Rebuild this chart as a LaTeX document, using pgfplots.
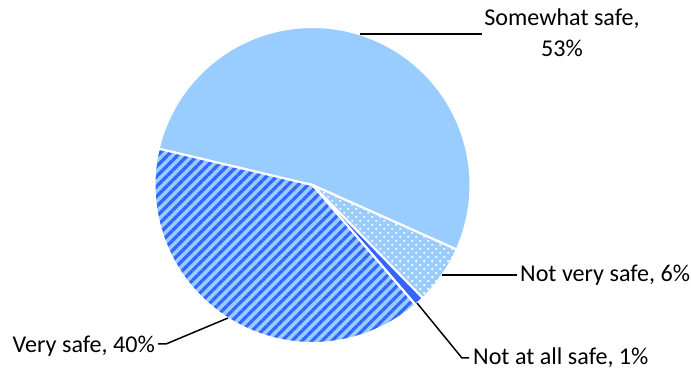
\documentclass[border=0pt]{standalone}
\usepackage{pgfplots}
\pgfplotsset{compat=1.18}
\usepackage{pgfplotstable}
\usepackage{fontspec}
\setmainfont{Carlito}
\usetikzlibrary{patterns.meta}
\definecolor{lightb}{HTML}{99CCFF}
\definecolor{darkb}{HTML}{3366FF}

\pgfplotstableread{
label value
Somewhat 53
NotVery 6
NotAtAll 1
Very 40
}\piedata

\tikzset{
  slice/.style 2 args={insert path={(axis cs:312.5,188) -- plot[domain=#1:#2, samples=90, variable=\t] ({312.5+158*cos(\t)},{188+158*sin(\t)}) -- cycle}},
  lbl/.style={font=\fontsize{24.2}{29}\selectfont, inner sep=0pt, text=black},
  lead/.style={black, line width=1.5bp}
}

\begin{document}%
\pgfplotstablegetelem{0}{value}\of\piedata\edef\vA{\pgfplotsretval}%
\pgfplotstablegetelem{1}{value}\of\piedata\edef\vB{\pgfplotsretval}%
\pgfplotstablegetelem{2}{value}\of\piedata\edef\vC{\pgfplotsretval}%
\pgfplotstablegetelem{3}{value}\of\piedata\edef\vD{\pgfplotsretval}%
\pgfmathsetmacro\aO{166.7}%
\pgfmathsetmacro\aA{\aO-3.6*\vA}%
\pgfmathsetmacro\aB{\aA-3.6*\vB}%
\pgfmathsetmacro\aC{\aB-3.6*\vC}%
\pgfmathsetmacro\aD{\aC-3.6*\vD}%
\begin{tikzpicture}
\begin{axis}[
  at={(0,0)}, anchor=south west,
  scale only axis, width=691bp, height=373bp,
  xmin=0, xmax=691, ymin=0, ymax=373,
  hide axis, clip=false]
% Somewhat safe
\fill[lightb, slice={\aO}{\aA}];
% Not very safe
\fill[lightb, slice={\aA}{\aB}];
\fill[pattern={Dots[distance=5.66bp, radius=1.15bp, angle=45]}, pattern color=white, slice={\aA}{\aB}];
% Not at all safe
\fill[darkb, slice={\aB}{\aC}];
% Very safe
\fill[lightb, slice={\aC}{\aD}];
\fill[pattern={Lines[angle=45, distance=7.07bp, line width=3.2bp]}, pattern color=darkb, slice={\aC}{\aD}];
% borders
\draw[white, line width=2bp, line join=round, slice={\aO}{\aA}];
\draw[white, line width=2bp, line join=round, slice={\aA}{\aB}];
\draw[white, line width=2bp, line join=round, slice={\aB}{\aC}];
\draw[white, line width=2bp, line join=round, slice={\aC}{\aD}];
% leaders and labels
\draw[lead] (axis cs:360,339) -- (axis cs:482,339);
\node[lbl, anchor=base] at (axis cs:562,347) {Somewhat safe,};
\node[lbl, anchor=base] at (axis cs:562,316) {53\%};
\draw[lead] (axis cs:442,98) -- (axis cs:517,98);
\node[lbl, anchor=base west] at (axis cs:520,91) {Not very safe, 6\%};
\draw[lead] (axis cs:417,70) -- (axis cs:462,15) -- (axis cs:469,15);
\node[lbl, anchor=base west] at (axis cs:473,8) {Not at all safe, 1\%};
\draw[lead] (axis cs:228,55) -- (axis cs:166,29) -- (axis cs:158,29);
\node[lbl, anchor=base east] at (axis cs:155,20) {Very safe, 40\%};
\end{axis}
\pgfresetboundingbox
\path[use as bounding box] (0,0) rectangle (691bp,373bp);
\end{tikzpicture}%
\end{document}
